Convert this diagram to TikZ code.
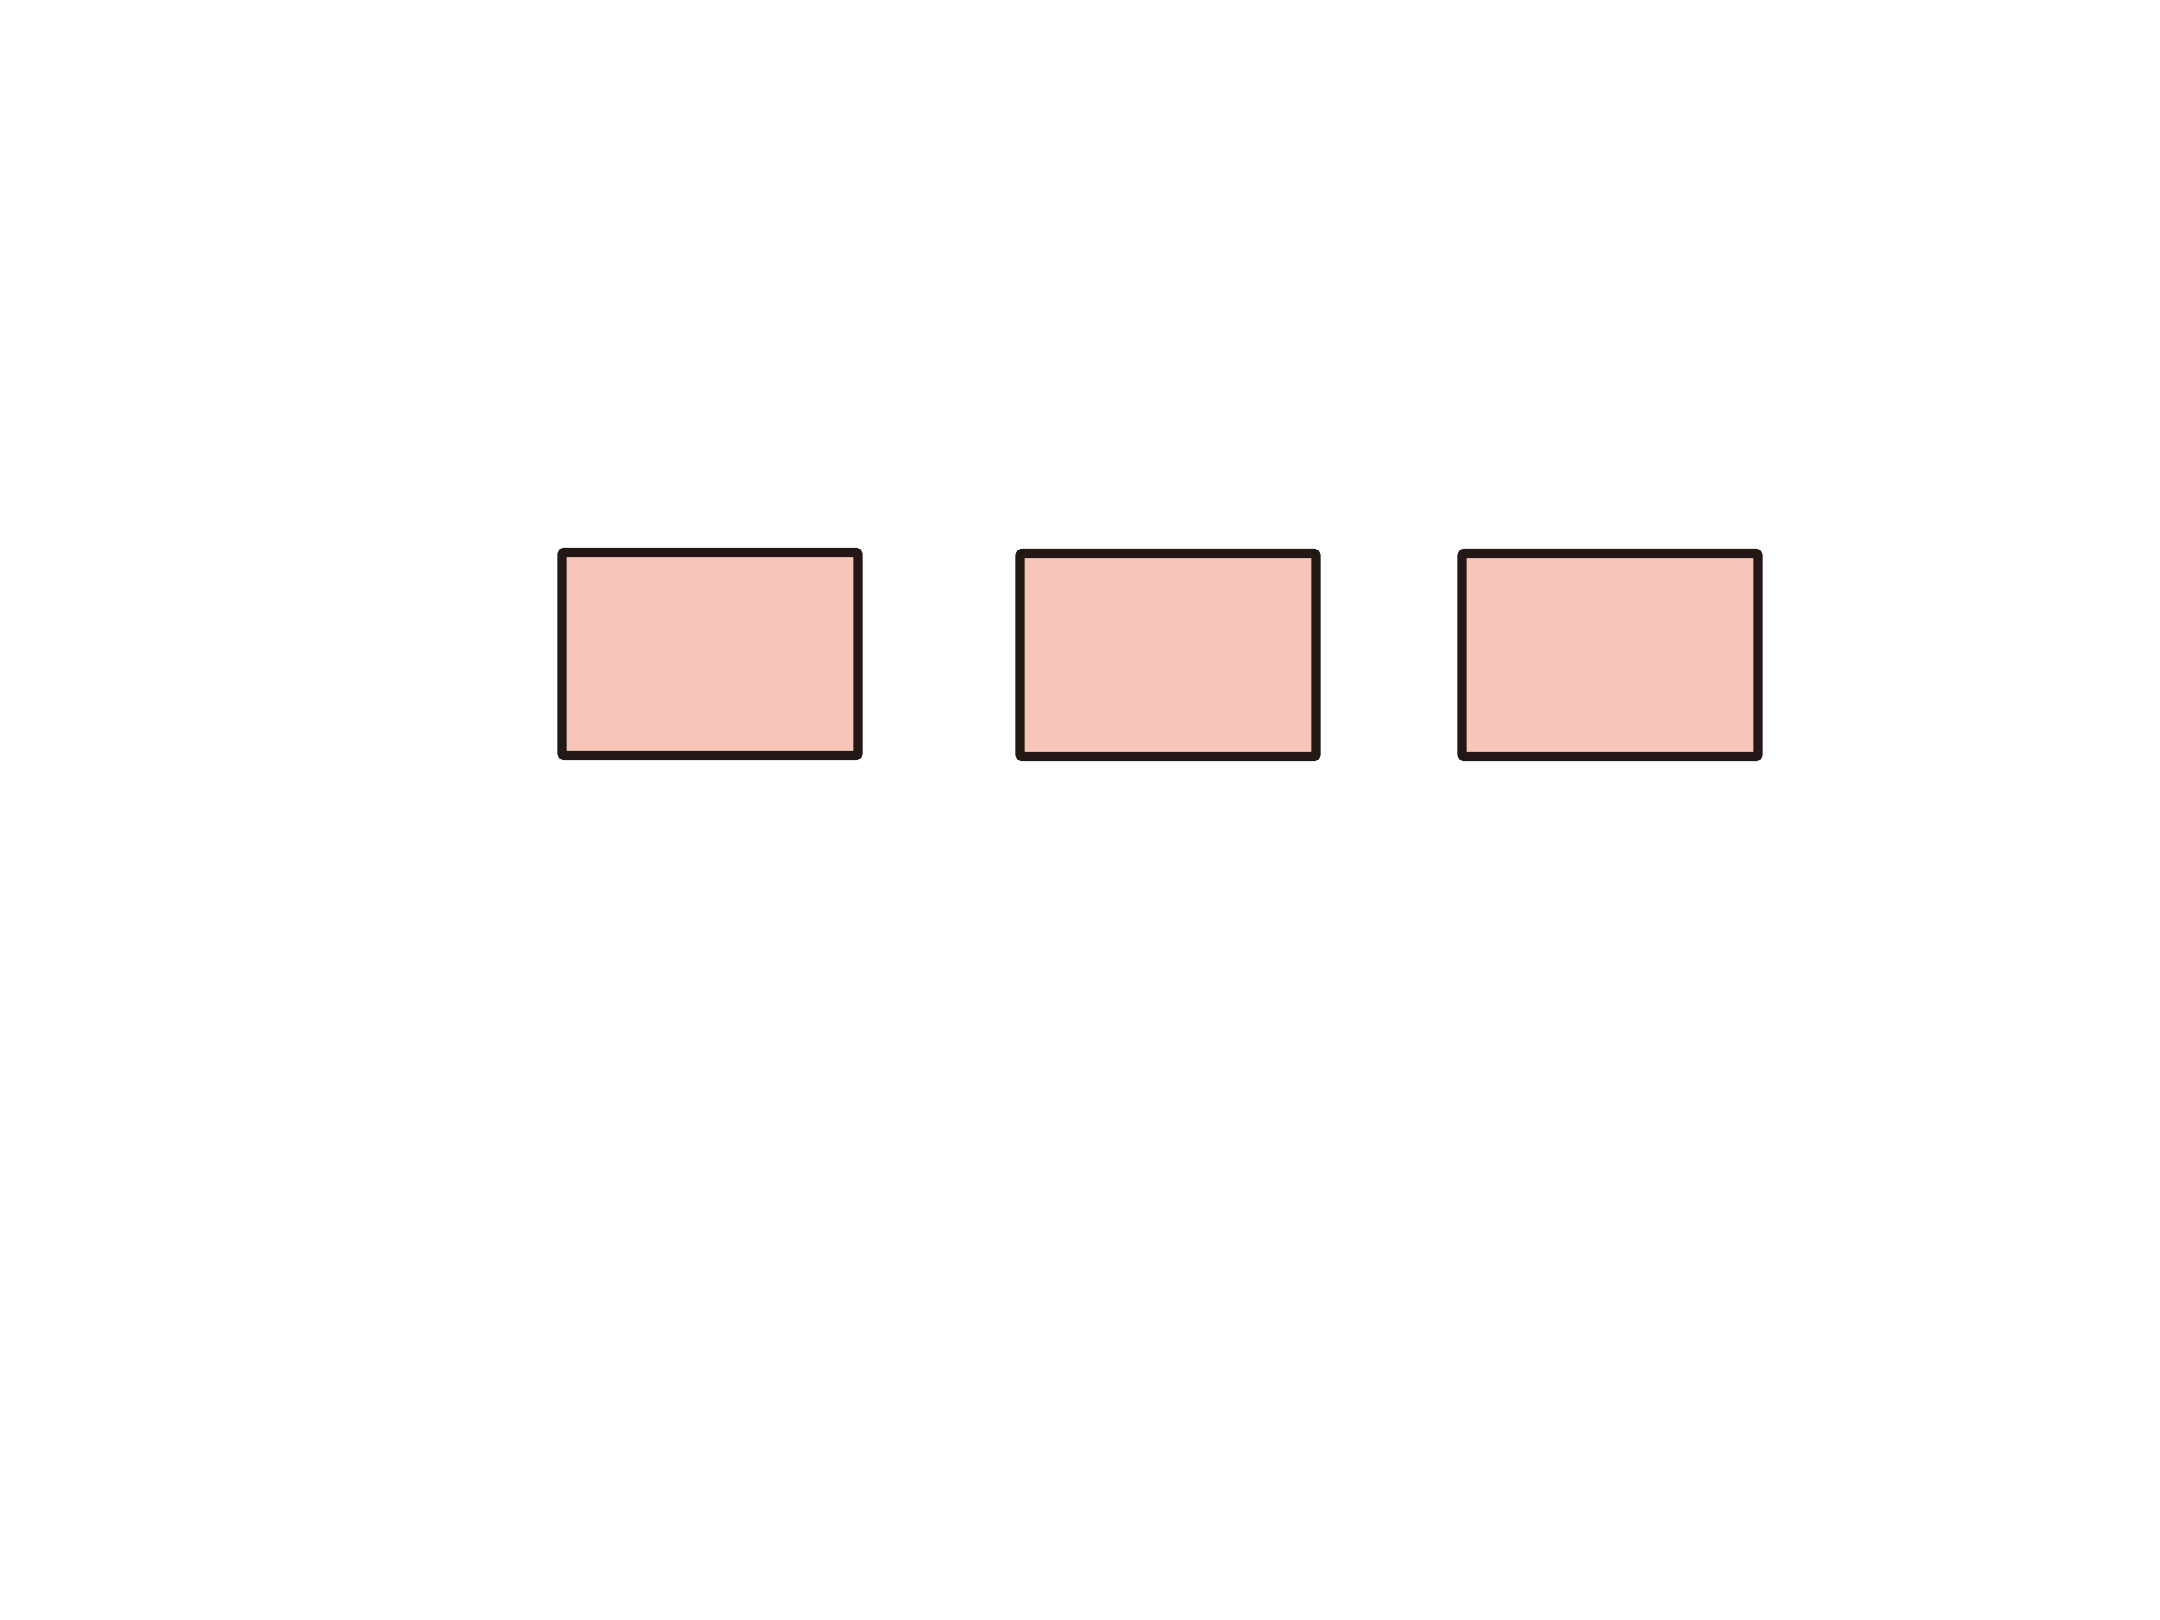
\documentclass[tikz,border=0pt]{standalone}
\usepackage{tikz}
\definecolor{boxfill}{HTML}{F7C6B8}
\definecolor{boxline}{HTML}{231815}
\tikzset{>=latex}
\tikzset{blk/.style={draw=boxline, fill=boxfill, line width=2.6pt, rounded corners=0.6pt, minimum width=2.96cm, minimum height=2.03cm, inner sep=0pt}}

\begin{document}
\begin{tikzpicture}
    \useasboundingbox[fill=white](0, 0) rectangle (21.6, 16.2);
    \node[blk] (b1) at (7.10, 9.66) {};
    \node[blk] (b2) at (11.68, 9.65) {};
    \node[blk] (b3) at (16.10, 9.65) {};
\end{tikzpicture}
\end{document}
